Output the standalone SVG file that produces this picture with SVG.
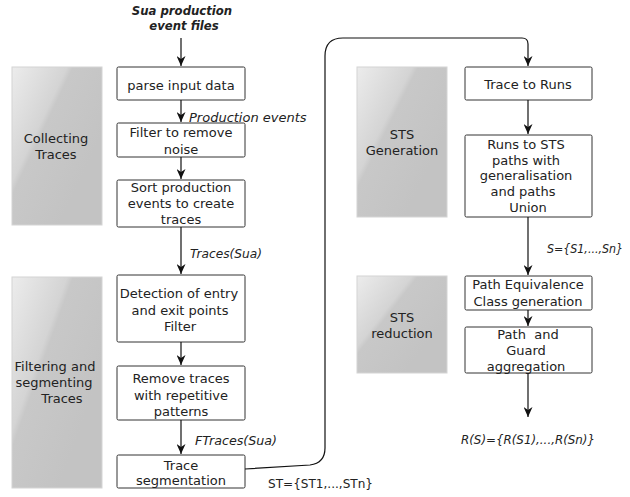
<svg xmlns="http://www.w3.org/2000/svg" width="630" height="497" viewBox="0 0 630 497">
<style>
text{font-family:"DejaVu Sans","Liberation Sans",sans-serif;font-size:13px;fill:#222}
.c{text-anchor:middle}
.i{font-style:italic}
.b{font-weight:bold}
.s{font-size:12px}
.box{fill:#fff;stroke:#333;stroke-width:1}
.phase{fill:url(#gloss);stroke:#d4d4d4;stroke-width:1}
.edge{fill:none;stroke:#111;stroke-width:1.2}
</style>
<defs>
<linearGradient id="gloss" x1="0" y1="0" x2="0.8" y2="0.67">
<stop offset="0" stop-color="#ececec"/>
<stop offset="0.45" stop-color="#d4d4d4"/>
<stop offset="0.5" stop-color="#c8c8c8"/>
<stop offset="1" stop-color="#c3c3c3"/>
</linearGradient>
<marker id="ah" viewBox="0 0 10 9" refX="10" refY="4.5" markerWidth="10" markerHeight="9" markerUnits="userSpaceOnUse" orient="auto">
<path d="M0,0 L10,4.5 L0,9 L3,4.5 z" fill="#111"/>
</marker>
</defs>

<g id="phase-collecting">
<rect class="phase" x="12" y="67" width="90" height="158"/>
<text class="c" x="56" y="143">Collecting</text>
<text class="c" x="56" y="159">Traces</text>
</g>
<g id="phase-filtering">
<rect class="phase" x="12" y="277" width="90" height="211"/>
<text class="c" x="55" y="371">Filtering and</text>
<text class="c" x="54" y="387">segmenting</text>
<text class="c" x="62" y="403">Traces</text>
</g>
<g id="phase-generation">
<rect class="phase" x="357" y="67" width="90" height="150"/>
<text class="c" x="402" y="139">STS</text>
<text class="c" x="402" y="155">Generation</text>
</g>
<g id="phase-reduction">
<rect class="phase" x="357" y="276" width="90" height="97"/>
<text class="c" x="402" y="321.5">STS</text>
<text class="c" x="402" y="337.5">reduction</text>
</g>

<g id="input-label">
<text class="c i b" x="182" y="15" style="font-size:11.7px">Sua production</text>
<text class="c i b" x="184" y="30" style="font-size:11.7px">event files</text>
</g>

<g id="parse">
<rect class="box" x="117" y="67" width="128" height="33" rx="1.5"/>
<text class="c" x="181" y="89.5">parse input data</text>
</g>
<g id="filter-noise">
<rect class="box" x="117" y="123" width="128" height="34" rx="1.5"/>
<text class="c" x="181" y="137">Filter to remove</text>
<text class="c" x="181" y="154">noise</text>
</g>
<g id="sort">
<rect class="box" x="117" y="180" width="128" height="47" rx="1.5"/>
<text class="c" x="181" y="192">Sort production</text>
<text class="c" x="181" y="208">events to create</text>
<text class="c" x="181" y="224">traces</text>
</g>
<g id="detection">
<rect class="box" x="117" y="275" width="128" height="67" rx="1.5"/>
<text class="c" x="179" y="298">Detection of entry</text>
<text class="c" x="180" y="314.5">and exit points</text>
<text class="c" x="180" y="331">Filter</text>
</g>
<g id="remove">
<rect class="box" x="117" y="366" width="128" height="54" rx="1.5"/>
<text class="c" x="181" y="383">Remove traces</text>
<text class="c" x="181" y="400">with repetitive</text>
<text class="c" x="181" y="416">patterns</text>
</g>
<g id="segmentation">
<rect class="box" x="117" y="455" width="128" height="33" rx="1.5"/>
<text class="c" x="181" y="470">Trace</text>
<text class="c" x="181" y="485">segmentation</text>
</g>

<g id="trace-runs">
<rect class="box" x="465" y="67" width="127" height="33" rx="1.5"/>
<text class="c" x="528" y="88.5">Trace to Runs</text>
</g>
<g id="runs-sts">
<rect class="box" x="465" y="135" width="127" height="82" rx="1.5"/>
<text class="c" x="526" y="148.5">Runs to STS</text>
<text class="c" x="526" y="164.5">paths with</text>
<text class="c" x="526" y="180">generalisation</text>
<text class="c" x="523" y="196">and paths</text>
<text class="c" x="528" y="211.5">Union</text>
</g>
<g id="equivalence">
<rect class="box" x="465" y="276" width="127" height="34" rx="1.5"/>
<text class="c" x="528" y="288.5">Path Equivalence</text>
<text class="c" x="528" y="305.5">Class generation</text>
</g>
<g id="aggregation">
<rect class="box" x="465" y="327" width="127" height="46" rx="1.5"/>
<text class="c" x="528" y="338.5" xml:space="preserve">Path  and</text>
<text class="c" x="526" y="354.5">Guard</text>
<text class="c" x="526" y="370.5">aggregation</text>
</g>

<g id="connectors">
<path class="edge" d="M181,38 L181,66" marker-end="url(#ah)"/>
<path class="edge" d="M181,100 L181,122" marker-end="url(#ah)"/>
<path class="edge" d="M181,157 L181,179" marker-end="url(#ah)"/>
<path class="edge" d="M181,227 L181,274" marker-end="url(#ah)"/>
<path class="edge" d="M181,342 L181,365" marker-end="url(#ah)"/>
<path class="edge" d="M181,420 L181,454" marker-end="url(#ah)"/>
<path class="edge" d="M245,469 L310,465 Q325,463 325,448 L325,56 Q325,38 343,38 L522,38 Q528,38 528,44 L528,66" marker-end="url(#ah)"/>
<path class="edge" d="M528,100 L528,134" marker-end="url(#ah)"/>
<path class="edge" d="M528,217 L528,275" marker-end="url(#ah)"/>
<path class="edge" d="M528,310 L528,326" marker-end="url(#ah)"/>
<path class="edge" d="M528,373 L528,417" marker-end="url(#ah)"/>
</g>

<g id="edge-labels">
<text class="i" x="189" y="121.5">Production events</text>
<text class="i" x="190" y="258" textLength="72" lengthAdjust="spacingAndGlyphs">Traces(Sua)</text>
<text class="i s" x="195" y="445" textLength="82" lengthAdjust="spacingAndGlyphs">FTraces(Sua)</text>
<text class="s" x="268" y="488" textLength="105" lengthAdjust="spacingAndGlyphs">ST={ST1,...,STn}</text>
<text class="i s" x="547" y="252.5" textLength="76" lengthAdjust="spacingAndGlyphs">S={S1,...,Sn}</text>
<text class="c i s" x="528" y="444" textLength="134" lengthAdjust="spacingAndGlyphs">R(S)={R(S1),...,R(Sn)}</text>
</g>
</svg>
